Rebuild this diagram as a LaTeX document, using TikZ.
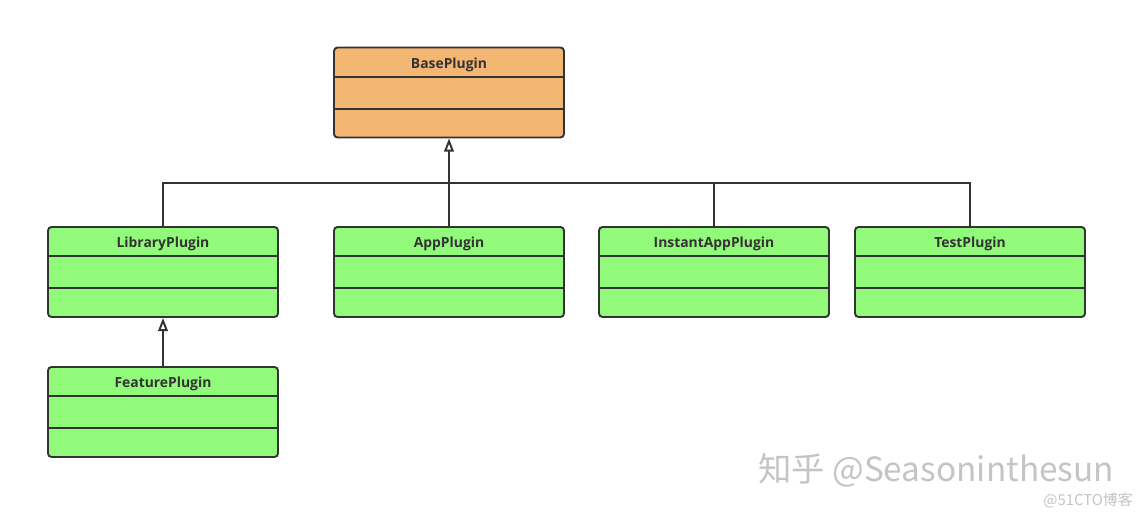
\documentclass[tikz,border=0pt]{standalone}
\usepackage{fontspec}
\newfontfamily\classfont{Open Sans}
\newfontfamily\cjkfont{Noto Sans CJK SC}
\usetikzlibrary{arrows.meta}
\definecolor{basefill}{HTML}{F4B673}
\definecolor{subfill}{HTML}{92FA7A}
\definecolor{umlline}{HTML}{333333}
\definecolor{wmgray}{HTML}{C4C4C4}
\tikzset{
  umlbox/.style={draw=umlline, line width=1.1pt, rounded corners=2pt,
    minimum width=4.6cm, minimum height=1.8cm, inner sep=0pt},
  umltitle/.style={font=\classfont\bfseries\fontsize{7.9}{9}\selectfont, text=umlline},
  link/.style={draw=umlline, line width=1.1pt},
  inherit/.style={link, -{Triangle[open, length=7.5pt, width=5.5pt]}},
}
\begin{document}
\begin{tikzpicture}[x=0.02cm, y=-0.02cm]
    \useasboundingbox (0,0) rectangle (1147,519);
    % class boxes: name / centre x / centre y / title / fill
    \foreach \name/\cx/\cy/\title/\fillc in {base/449/92.5/BasePlugin/basefill,
        lib/163/272/LibraryPlugin/subfill, app/449/272/AppPlugin/subfill,
        inst/714/272/InstantAppPlugin/subfill, test/970/272/TestPlugin/subfill,
        feat/163/412/FeaturePlugin/subfill} {
        \node[umlbox, fill=\fillc] (\name) at (\cx,\cy) {};
        \draw[link] (\name.north west) ++(0,30) -- ++(230,0);
        \draw[link] (\name.north west) ++(0,62) -- ++(230,0);
        \path (\name.north) ++(0,18) node[umltitle] (\name-title) {\title};
    }
    \coordinate (bus) at (449,183);
    \draw[link] (lib.north) -- (lib.north |- bus) -- (test.north |- bus) -- (test.north);
    \draw[link] (inst.north) -- (inst.north |- bus);
    \draw[inherit] (app.north) -- (base.south);
    \draw[inherit] (feat.north) -- (lib.south);
    % watermark
    \node[anchor=west, text=wmgray, font=\cjkfont\fontsize{19}{22}\selectfont] (wm) at (752,470) {知乎 @Seasoninthesun};
    \node[anchor=east, text=wmgray, font=\cjkfont\fontsize{8.5}{10}\selectfont] (wmsite) at (1139,500) {@51CTO博客};
\end{tikzpicture}
\end{document}
